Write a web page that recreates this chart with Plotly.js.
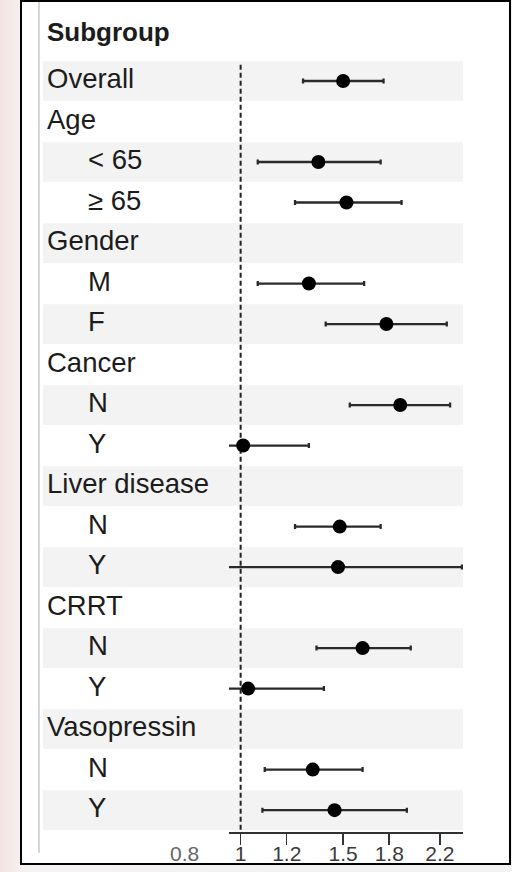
<!DOCTYPE html>
<html>
<head>
<meta charset="utf-8">
<script src="https://cdn.plot.ly/plotly-3.0.1.min.js"></script>
<style>
  html, body { margin: 0; padding: 0; }
  body {
    width: 512px; height: 872px; overflow: hidden; position: relative;
    background: linear-gradient(90deg, #f3e3e3 0px, #f6eeee 20px, #f4f2f2 30px, #f2f2f2 100%);
  }
  #frame {
    position: absolute; left: 20px; top: 0px;
    width: 487px; height: 861px;
    border: 2px solid #000; overflow: hidden; background: #fff;
  }
  #plot { position: absolute; left: -22px; top: -2px; width: 512px; height: 872px; }
  #vline { position: absolute; left: 16px; top: 0px; width: 2px; height: 851px; background: #d6d6d6; }
</style>
</head>
<body>
<div id="frame">
  <div id="plot"></div>
  <div id="vline"></div>
</div>
<script>
// ---- data ----
var headerLabel = "Subgroup";
var rowLabels = ["Overall", "Age", "< 65", "≥ 65", "Gender", "M", "F", "Cancer", "N", "Y",
                 "Liver disease", "N", "Y", "CRRT", "N", "Y", "Vasopressin", "N", "Y"];
var rowIndent = [0, 0, 1, 1, 0, 1, 1, 0, 1, 1, 0, 1, 1, 0, 1, 1, 0, 1, 1];
var hr     = [1.50, null, 1.36, 1.52, null, 1.31, 1.78, null, 1.88, 1.01, null, 1.48, 1.47, null, 1.62, 1.03, null, 1.33, 1.45];
var ciLow  = [1.28, null, 1.07, 1.24, null, 1.07, 1.40, null, 1.54, 0.90, null, 1.24, 0.85, null, 1.35, 0.92, null, 1.10, 1.09];
var ciHigh = [1.76, null, 1.74, 1.89, null, 1.63, 2.26, null, 2.29, 1.31, null, 1.74, 2.40, null, 1.96, 1.39, null, 1.62, 1.93];
var tickVals = [1, 1.2, 1.5, 1.8, 2.2];
var tickText = ["1", "1.2", "1.5", "1.8", "2.2"];
var extraTick = 0.8;
var extraTickText = "0.8";
var refValue = 1;

// ---- layout helpers ----
var W = 512, H = 872;
var mL = 229, mR = 49, mT = 20, mB = 40;
var plotW = W - mL - mR;
var yBottom = 18.54, yTop = -1.506;
var xRange = [Math.log10(0.955), Math.log10(2.41)];
function pxToPaperX(px) { return (px - mL) / plotW; }
function valToPaperX(v) { return (Math.log10(v) - xRange[0]) / (xRange[1] - xRange[0]); }
function kToPaperY(k) { return (yBottom - k) / (yBottom - yTop); }

var ys = rowLabels.map(function (_, i) { return i; });
var errPlus = hr.map(function (v, i) { return v == null ? null : ciHigh[i] - v; });
var errMinus = hr.map(function (v, i) { return v == null ? null : v - ciLow[i]; });

var shapes = [];
rowLabels.forEach(function (_, i) {
  if (i % 2 === 0) {
    shapes.push({
      type: 'rect', xref: 'paper', yref: 'paper', layer: 'below',
      x0: pxToPaperX(43), x1: pxToPaperX(463),
      y0: kToPaperY(i + 0.49), y1: kToPaperY(i - 0.49),
      fillcolor: '#f2f3f2', line: { width: 0 }
    });
  }
});

var FONT = 'Liberation Sans, Arial, sans-serif';
var annotations = rowLabels.map(function (t, i) {
  return {
    text: t, xref: 'paper', yref: 'y', x: pxToPaperX(rowIndent[i] ? 86 : 45), y: i - 0.06,
    xanchor: 'left', yanchor: 'middle', showarrow: false,
    font: { family: FONT, size: 27.5, color: '#1c1c1c' }
  };
});
annotations.push({
  text: '<b>' + headerLabel + '</b>', xref: 'paper', yref: 'y', x: pxToPaperX(45), y: -1.2,
  xanchor: 'left', yanchor: 'middle', showarrow: false,
  font: { family: FONT, size: 26, color: '#1c1c1c' }
});
annotations.push({
  text: extraTickText, xref: 'paper', yref: 'paper', x: valToPaperX(extraTick), y: 0,
  xanchor: 'center', yanchor: 'top', yshift: -8, showarrow: false,
  font: { family: FONT, size: 21, color: '#666' }
});

var traces = [
  {
    x: [refValue, refValue], y: [-0.4, yBottom], mode: 'lines', type: 'scatter',
    line: { color: '#222', width: 2, dash: '5px,3px' }, hoverinfo: 'skip', showlegend: false
  },
  {
    x: hr, y: ys, type: 'scatter', mode: 'markers',
    marker: { color: '#000', size: 14 },
    error_x: { type: 'data', symmetric: false, array: errPlus, arrayminus: errMinus,
               color: '#2a2a2a', thickness: 2.3, width: 2.5 },
    showlegend: false
  }
];

var layout = {
  width: W, height: H,
  margin: { l: mL, r: mR, t: mT, b: mB },
  paper_bgcolor: 'rgba(0,0,0,0)', plot_bgcolor: 'rgba(0,0,0,0)',
  showlegend: false,
  xaxis: {
    type: 'log', range: xRange,
    tickvals: tickVals, ticktext: tickText,
    ticks: 'outside', ticklen: 11, tickwidth: 1.5, tickcolor: '#333',
    ticklabelstandoff: -9,
    showline: true, linecolor: '#333', linewidth: 1.5,
    showgrid: false, zeroline: false,
    tickfont: { family: FONT, size: 21, color: '#3a3a3a' }
  },
  yaxis: {
    range: [yBottom, yTop], showgrid: false, zeroline: false, showline: false,
    showticklabels: false, ticks: ''
  },
  shapes: shapes,
  annotations: annotations
};

Plotly.newPlot('plot', traces, layout, { displayModeBar: false, staticPlot: true });
</script>
</body>
</html>
